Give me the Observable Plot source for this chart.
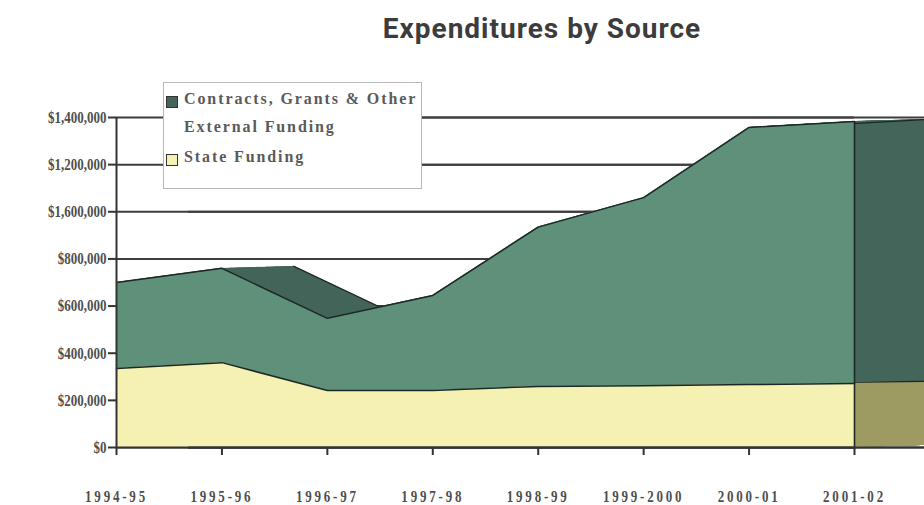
<!DOCTYPE html>
<html>
<head>
<meta charset="utf-8">
<script src="https://cdn.jsdelivr.net/npm/d3@7"></script>
<script src="https://cdn.jsdelivr.net/npm/@observablehq/plot@0.6"></script>
<style>
  body { margin: 0; background: #fff; }
  #wrap { position: relative; width: 924px; height: 505px; overflow: hidden; background: #fff; }
  #chart { position: absolute; left: 0; top: 0; }
  #title { position: absolute; left: 542px; top: 12px; transform: translateX(-50%); white-space: nowrap;
           font-family: Roboto, "DejaVu Sans", sans-serif; font-weight: bold; font-size: 28px; color: #3c3c3c; letter-spacing: 1px; }
  #legend { position: absolute; left: 163px; top: 82px; width: 259px; height: 107px; background: #fff;
            border: 1.5px solid #b8b8b8; box-sizing: border-box; font-family: "Liberation Serif", serif;
            font-weight: bold; font-size: 16px; color: #5a5a5a; letter-spacing: 1.9px; }
  .row { position: absolute; left: 2px; display: flex; align-items: flex-start; }
  .sw { width: 10px; height: 10px; border: 1px solid #333; margin-top: 7px; margin-right: 6px; flex: none; }
  .lab { white-space: pre-line; line-height: 28px; margin-top: -4px; display: inline-block; }
</style>
</head>
<body>
<div id="wrap">
  <div id="chart"></div>
  <div id="title"></div>
  <div id="legend"></div>
</div>
<script>
// ---- data ----
const years = ["1994-95", "1995-96", "1996-97", "1997-98", "1998-99", "1999-2000", "2000-01", "2001-02"];
const stateFunding     = [335000, 360000, 242000, 242000, 259000, 262000, 267000, 272000];
const contractsFunding = [365000, 400000, 306000, 403000, 676000, 798000, 1091000, 1111000];
const yTicks      = [0, 200000, 400000, 600000, 800000, 1000000, 1200000, 1400000];
const yTickLabels = ["$0", "$200,000", "$400,000", "$600,000", "$800,000", "$1,600,000", "$1,200,000", "$1,400,000"];
const seriesNames = ["Contracts, Grants & Other\nExternal Funding", "State Funding"];
const titleText = "Expenditures by Source";

// ---- styles ----
const frontGreen = "#5f9079", backGreen = "#44655a";
const frontYellow = "#f5f1b3", backOlive = "#9d9b62";
const edge = "#1c2823";
const depthX = 72, depthY = -2, steps = 36;

const rows = years.map((yr, i) => ({
  i, yr, state: stateFunding[i], contracts: contractsFunding[i], total: stateFunding[i] + contractsFunding[i]
}));

const marks = [];
marks.push(Plot.ruleY(yTicks, {stroke: "#3d3d3d", strokeWidth: 2}));
marks.push(Plot.ruleY(yTicks, {stroke: "#3d3d3d", strokeWidth: 2, dx: depthX}));
for (let k = steps; k >= 0; k--) {
  marks.push(Plot.areaY(rows, {x: "i", y1: 0, y2: "total", fill: backGreen, dx: depthX * k / steps, dy: depthY * k / steps}));
}
for (let k = steps; k >= 1; k--) {
  marks.push(Plot.areaY(rows, {x: "i", y1: 0, y2: "state", fill: backOlive, dx: depthX * k / steps, dy: depthY * k / steps}));
}
marks.push(Plot.lineY(rows.slice(1), {x: "i", y: "total", stroke: edge, strokeWidth: 1.2, dx: depthX, dy: depthY}));
marks.push(Plot.lineY(rows, {x: "i", y: "state", stroke: edge, strokeWidth: 1.2, dx: depthX, dy: depthY}));
marks.push(Plot.areaY(rows, {x: "i", y1: "state", y2: "total", fill: frontGreen}));
marks.push(Plot.areaY(rows, {x: "i", y1: 0, y2: "state", fill: frontYellow}));
marks.push(Plot.lineY(rows, {x: "i", y: "total", stroke: edge, strokeWidth: 1.5}));
marks.push(Plot.lineY(rows, {x: "i", y: "state", stroke: edge, strokeWidth: 1.5}));
marks.push(Plot.ruleX(rows.slice(-1), {x: "i", y1: 0, y2: "total", stroke: edge, strokeWidth: 1.6}));
marks.push(Plot.ruleY([0], {stroke: "#333", strokeWidth: 2.2}));
marks.push(Plot.ruleY([0], {stroke: "#333", strokeWidth: 2.2, dx: depthX}));
marks.push(Plot.ruleX([0], {y1: 0, y2: 1400000, stroke: "#333", strokeWidth: 2}));
marks.push(Plot.axisY(yTicks, {
  tickFormat: d => yTickLabels[yTicks.indexOf(d)], tickSize: 8, tickPadding: 2,
  stroke: "#333", strokeWidth: 2, fill: "#4e4e4e", fontSize: 13, fontWeight: "bold", label: null
}));
marks.push(Plot.axisX(d3.range(years.length), {
  tickFormat: i => years[i], tickSize: 8, tickPadding: 34,
  stroke: "#333", strokeWidth: 2, fill: "#4e4e4e", fontSize: 13, fontWeight: "bold", label: null
}));

const svg = Plot.plot({
  width: 924, height: 505,
  marginLeft: 116, marginRight: 70, marginTop: 117, marginBottom: 58,
  x: {type: "linear", domain: [0, years.length - 1]},
  y: {domain: [0, 1400000]},
  style: {fontFamily: "'Liberation Serif', serif", fontSize: "13px", background: "transparent", overflow: "visible"},
  marks
});
document.getElementById("chart").appendChild(svg);

// tall, condensed look of the scanned tick labels
d3.select(svg).selectAll('g[aria-label="y-axis tick label"] text, g[aria-label="x-axis tick label"] text')
  .each(function () {
    const t = this.getAttribute("transform") || "";
    this.setAttribute("transform", t + " scale(1,1.3)");
  });
d3.select(svg).selectAll('g[aria-label="x-axis tick label"] text').style("letter-spacing", "2.8px");

document.getElementById("title").textContent = titleText;

const legend = document.getElementById("legend");
const swatches = [backGreen, frontYellow];
const tops = [6, 64];
seriesNames.forEach((name, j) => {
  const row = document.createElement("div");
  row.className = "row";
  row.style.top = tops[j] + "px";
  const sw = document.createElement("span");
  sw.className = "sw";
  sw.style.background = swatches[j];
  const lab = document.createElement("span");
  lab.className = "lab";
  lab.textContent = name;
  row.appendChild(sw); row.appendChild(lab);
  legend.appendChild(row);
});
</script>
</body>
</html>
